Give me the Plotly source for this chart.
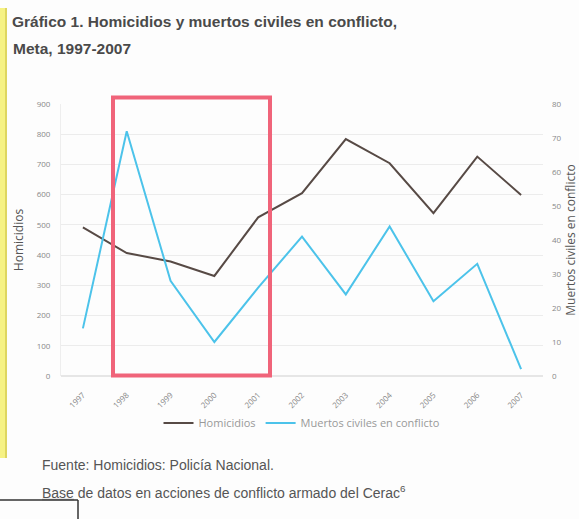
import plotly.graph_objects as go

years = ["1997", "1998", "1999", "2000", "2001", "2002", "2003", "2004", "2005", "2006", "2007"]
homicidios = [492, 407, 379, 331, 525, 605, 784, 704, 539, 726, 599]
muertos = [14, 72, 28, 10, 26, 41, 24, 44, 22, 33, 2]
left_ticks = [0, 100, 200, 300, 400, 500, 600, 700, 800, 900]
right_ticks = [0, 10, 20, 30, 40, 50, 60, 70, 80]

W, H = 579, 519
L, R, T, B = 61, 36, 104, 143
PW, PH = W - L - R, H - T - B


def px(x):
    return (x - L) / PW


def py(y):
    return (H - B - y) / PH


fig = go.Figure()
fig.add_trace(go.Scatter(x=years, y=homicidios, name="Homicidios", mode="lines",
                         line=dict(color="#574a45", width=2)))
fig.add_trace(go.Scatter(x=years, y=muertos, name="Muertos civiles en conflicto", mode="lines",
                         line=dict(color="#4cc3ea", width=2), yaxis="y2"))

tickfont = dict(family="Open Sans, Liberation Sans", size=8, color="#888")
titlefont = dict(family="Open Sans, Liberation Sans", size=12, color="#555")

fig.update_layout(
    width=W, height=H,
    margin=dict(l=L, r=R, t=T, b=B, autoexpand=False),
    paper_bgcolor="#fdfdfd", plot_bgcolor="#fdfdfd",
    showlegend=True,
    legend=dict(orientation="h", x=0.5, xanchor="center", y=py(423), yanchor="middle",
                font=dict(family="Open Sans, Liberation Sans", size=11, color="#999"),
                bgcolor="rgba(0,0,0,0)", itemwidth=30),
    xaxis=dict(type="category", range=[-0.5, 10.5], tickangle=-45, tickfont=tickfont,
               showgrid=False, showline=False, ticks="", ticklabelstandoff=12, automargin=False),
    yaxis=dict(range=[0, 900], tickvals=left_ticks, tickfont=tickfont,
               showgrid=True, gridcolor="#ececec", gridwidth=1,
               showline=True, linecolor="#eeeeee", zeroline=True, zerolinecolor="#e6e6e6",
               ticks="", ticklabelstandoff=8, automargin=False,
               title=dict(text="Homicidios", font=titlefont, standoff=10)),
    yaxis2=dict(range=[0, 80], tickvals=right_ticks, tickfont=tickfont, overlaying="y", side="right",
                showgrid=False, zeroline=False, ticks="", ticklabelstandoff=8, automargin=False,
                title=dict(text="Muertos civiles en conflicto", font=titlefont, standoff=14)),
)

annos = [
    dict(text="<b>Gráfico 1. Homicidios y muertos civiles en conflicto,</b>", x=px(10), y=py(21),
         font=dict(family="Liberation Sans, Arial", size=15.5, color="#4a4a4a")),
    dict(text="<b>Meta, 1997-2007</b>", x=px(11), y=py(48),
         font=dict(family="Liberation Sans, Arial", size=15.5, color="#4a4a4a")),
    dict(text="Fuente: Homicidios: Policía Nacional.", x=px(40), y=py(465),
         font=dict(family="Liberation Sans, Arial", size=14, color="#555")),
    dict(text="<u>Base</u> de datos en acciones de conflicto armado del Cerac<sup>6</sup>", x=px(40), y=py(492),
         font=dict(family="Liberation Sans, Arial", size=14, color="#555")),
]
for a in annos:
    fig.add_annotation(xref="paper", yref="paper", xanchor="left", yanchor="middle",
                       showarrow=False, **a)

shapes = [
    dict(type="rect", x0=px(0), x1=px(7), y0=py(8), y1=py(458), fillcolor="#f6f284", line=dict(width=0)),
    dict(type="line", x0=px(6), x1=px(6), y0=py(8), y1=py(458), line=dict(color="#d6cd55", width=1.5)),
    dict(type="rect", x0=px(113), x1=px(270), y0=py(97.5), y1=py(375.5),
         line=dict(color="#f0647a", width=4), fillcolor="rgba(0,0,0,0)"),
    dict(type="line", x0=px(0), x1=px(78), y0=py(500), y1=py(500), line=dict(color="#333", width=1.5)),
    dict(type="line", x0=px(78), x1=px(78), y0=py(500), y1=py(519), line=dict(color="#333", width=1.5)),
]
for s in shapes:
    fig.add_shape(xref="paper", yref="paper", layer="above", **s)

fig.write_html("out.html", config={"displayModeBar": False},
               post_script="document.body.style.margin='0';document.body.style.overflow='hidden';")
